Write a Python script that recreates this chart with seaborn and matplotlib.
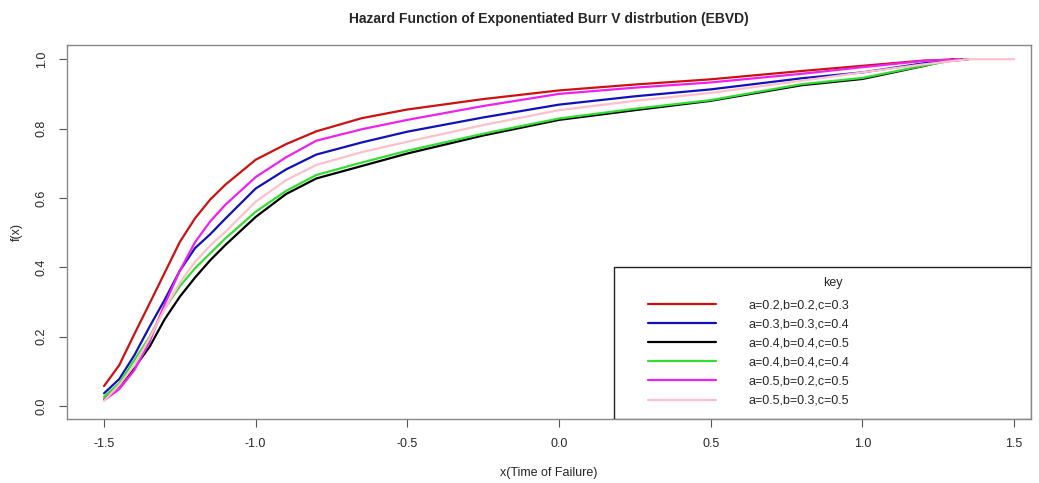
"""Hazard function curves of the Exponentiated Burr V distribution (EBVD)."""

import pandas as pd
import matplotlib.pyplot as plt
import seaborn as sns
from matplotlib.patches import Rectangle

# values
x_main = [-1.5, -1.45, -1.4, -1.35, -1.3, -1.25, -1.2, -1.15, -1.1, -1.0, -0.9, -0.8,
          -0.65, -0.5, -0.25, 0.0, 0.25, 0.5, 0.8, 1.0, 1.2]

red_x = x_main + [1.33]
red_y = [0.057, 0.117, 0.207, 0.295, 0.384, 0.473, 0.541, 0.595, 0.638, 0.71, 0.755, 0.792,
         0.83, 0.855, 0.885, 0.91, 0.927, 0.942, 0.966, 0.981, 0.996, 1.0]

blue_x = x_main + [1.35]
blue_y = [0.036, 0.077, 0.146, 0.228, 0.306, 0.39, 0.455, 0.495, 0.54, 0.627, 0.682, 0.725,
          0.76, 0.791, 0.832, 0.869, 0.893, 0.913, 0.945, 0.962, 0.988, 1.0]

black_x = x_main + [1.3]
black_y = [0.018, 0.058, 0.11, 0.17, 0.25, 0.315, 0.37, 0.42, 0.464, 0.545, 0.611, 0.656,
           0.692, 0.728, 0.78, 0.825, 0.853, 0.88, 0.925, 0.943, 0.98, 1.0]

green_x = x_main + [1.32]
green_y = [0.026, 0.065, 0.132, 0.199, 0.281, 0.345, 0.397, 0.44, 0.483, 0.56, 0.62, 0.666,
           0.702, 0.736, 0.785, 0.829, 0.857, 0.882, 0.928, 0.946, 0.981, 1.0]

magenta_x = x_main + [1.32]
magenta_y = [0.016, 0.048, 0.103, 0.185, 0.293, 0.39, 0.472, 0.532, 0.58, 0.66, 0.717, 0.765,
             0.798, 0.825, 0.865, 0.9, 0.918, 0.933, 0.958, 0.977, 0.995, 1.0]

pink_x = x_main + [1.35, 1.5]
pink_y = [0.015, 0.06, 0.117, 0.195, 0.28, 0.355, 0.415, 0.462, 0.502, 0.589, 0.651, 0.695,
          0.732, 0.762, 0.81, 0.853, 0.88, 0.903, 0.938, 0.962, 0.985, 1.0, 1.0]

labels = ["a=0.2,b=0.2,c=0.3", "a=0.3,b=0.3,c=0.4", "a=0.4,b=0.4,c=0.5",
          "a=0.4,b=0.4,c=0.4", "a=0.5,b=0.2,c=0.5", "a=0.5,b=0.3,c=0.5"]
colors = ["#CC1111", "#1111BB", "#000000", "#33DD33", "#EE22EE", "#FFC0CB"]

x_ticks = [-1.5, -1.0, -0.5, 0.0, 0.5, 1.0, 1.5]
y_ticks = [0.0, 0.2, 0.4, 0.6, 0.8, 1.0]

series = [(red_x, red_y), (blue_x, blue_y), (black_x, black_y),
          (green_x, green_y), (magenta_x, magenta_y), (pink_x, pink_y)]
frames = []
for lab, (xs, ys) in zip(labels, series):
    frames.append(pd.DataFrame({"x": xs, "y": ys, "key": lab}))
df = pd.concat(frames, ignore_index=True)

sns.set_style("ticks")
plt.rcParams["font.family"] = ["Liberation Sans", "DejaVu Sans"]

fig = plt.figure(figsize=(10.39, 4.83), dpi=100)
ax = fig.add_axes([0.0645, 0.1325, 0.9278, 0.7743])

sns.lineplot(data=df, x="x", y="y", hue="key", hue_order=labels,
             palette=dict(zip(labels, colors)), estimator=None, sort=False,
             linewidth=1.6, ax=ax, legend=False)

ax.set_xlim(-1.622, 1.556)
ax.set_ylim(-0.038, 1.041)
ax.set_xticks(x_ticks)
ax.set_xticklabels([f"{t:.1f}" for t in x_ticks], fontsize=9)
ax.set_yticks(y_ticks)
ax.set_yticklabels([f"{t:.1f}" for t in y_ticks], fontsize=9, rotation=90, va="center")
ax.tick_params(axis="both", direction="out", length=6, width=0.8, color="#555555", pad=8)

for sp in ax.spines.values():
    sp.set_color("#888888")
    sp.set_linewidth(1.0)

ax.set_xlabel("x(Time of Failure)", fontsize=9, labelpad=12)
ax.set_ylabel("f(x)", fontsize=9, labelpad=9)
ax.set_title("Hazard Function of Exponentiated Burr V distrbution (EBVD)",
             fontsize=10, fontweight="bold", pad=15.5)

# legend box in the lower right, R style
box = Rectangle((0.5674, 0.0), 0.4326, 0.4072, transform=ax.transAxes,
                facecolor="white", edgecolor="#222222", linewidth=1.0, zorder=3)
ax.add_patch(box)
ax.text(0.7946, 0.3644, "key", transform=ax.transAxes, ha="center", va="center",
        fontsize=9, zorder=4)

handles = [plt.Line2D([], [], color=c, linewidth=1.6) for c in colors]
leg = ax.legend(handles, labels, loc="upper left", bbox_to_anchor=(0.6027, 0.320),
                frameon=False, fontsize=9, handlelength=5.4, handletextpad=2.6,
                labelspacing=0.57, borderpad=0, borderaxespad=0)
leg.set_zorder(5)

fig.savefig("out.png", dpi=100)
